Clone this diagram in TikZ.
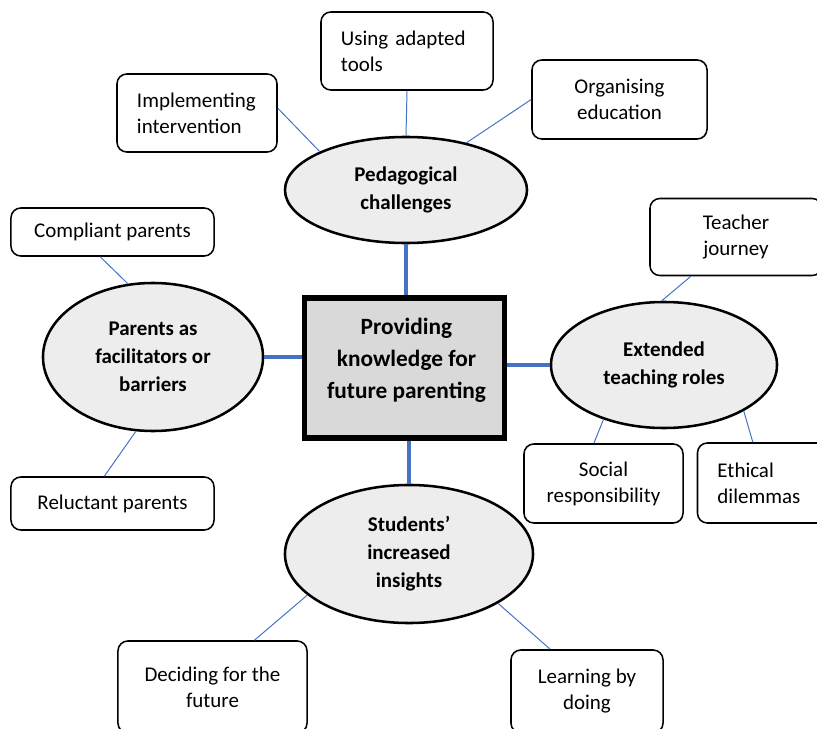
\documentclass[tikz,border=0pt]{standalone}
\usepackage{fontspec}
\setmainfont{Carlito}
\usepackage{tikz}
\usetikzlibrary{
    positioning,
    calc,
    shapes.geometric,
}
\definecolor{linkblue}{HTML}{4472C4}
\definecolor{themefill}{HTML}{EDEDED}
\definecolor{corefill}{HTML}{D9D9D9}
\tikzset{
    % Box and ellipse styles
    leaf/.style={rectangle, draw, rounded corners=7pt, line width=1.1pt, fill=white,
                 inner xsep=0.3cm, inner ysep=0pt, align=center,
                 font=\fontsize{14.9}{18.5}\selectfont},
    leaf left/.style={leaf, align=left, inner xsep=0.5cm},
    theme/.style={ellipse, draw, line width=1.8pt, fill=themefill, inner sep=0pt,
                  align=center, font=\bfseries\fontsize{14.9}{20}\selectfont},
    core/.style={rectangle, draw, line width=3.6pt, fill=corefill, inner sep=0pt},
    core text/.style={align=center, inner sep=0pt,
                      font=\bfseries\fontsize{16.6}{22.8}\selectfont},
    % Connector styles
    trunk/.style={linkblue, line width=2.8pt},
    twig/.style={linkblue, line width=0.7pt},
}

\begin{document}
\begin{tikzpicture}[x=0.025cm, y=-0.025cm]
    \useasboundingbox (0,0) rectangle (817,729);
    \clip (0,0) rectangle (817,729);

    % Centre
    \node[core, minimum width=5.0cm, minimum height=3.5cm] (core) at (404.5,368) {};
    \node[core text] (core label) at ($(core.center)+(2,-8)$)
        {Providing\\knowledge for\\future parenting};

    % Themes
    \node[theme, minimum width=6.05cm, minimum height=2.65cm] (ped) at (406,190)
        {Pedagogical\\challenges};
    \node[theme, minimum width=5.65cm, minimum height=3.15cm] (ext) at (664,365)
        {Extended\\teaching roles};
    \node[theme, minimum width=5.5cm, minimum height=3.7cm] (par) at (153,357)
        {Parents as\\facilitators or\\barriers};
    \node[theme, minimum width=6.2cm, minimum height=3.45cm] (stu) at (409,554)
        {Students’\\increased\\insights};

    % Sub-themes
    \node[leaf left, text width=3.3cm, minimum height=1.95cm] (using) at (407,51)
        {Using adapted\\tools};
    \node[leaf left, text width=3.0cm, minimum height=1.95cm] (impl) at (197,113)
        {Implementing\\intervention};
    \node[leaf, minimum width=4.375cm, minimum height=1.975cm] (org) at (619.5,99.5)
        {Organising\\education};
    \node[leaf, minimum width=4.3cm, minimum height=1.925cm] (teach) at (736,237)
        {Teacher\\journey};
    \node[leaf, minimum width=3.975cm, minimum height=1.975cm] (social) at (603.5,483.5)
        {Social\\responsibility};
    \node[leaf left, text width=2.3cm, minimum height=2.0cm] (ethic) at (763.5,483)
        {Ethical\\dilemmas};
    \node[leaf, minimum width=5.075cm, minimum height=1.2cm] (comp) at (112.5,232)
        {Compliant parents};
    \node[leaf, minimum width=5.075cm, minimum height=1.325cm] (reluct) at (112.5,503.5)
        {Reluctant parents};
    \node[leaf, minimum width=4.725cm, minimum height=2.3cm] (decide) at (212.5,687)
        {Deciding for the\\future};
    \node[leaf, minimum width=3.8cm, minimum height=2.075cm] (learn) at (587,691.5)
        {Learning by\\doing};

    % Centre to themes
    \draw[trunk] (ped.south) -- (ped.south |- core.north);
    \draw[trunk] (par.east) -- (par.east -| core.west);
    \draw[trunk] (ext.west) -- (ext.west -| core.east);
    \draw[trunk] (stu.north) -- (stu.north |- core.south);

    % Themes to sub-themes
    \draw[twig] ($(impl.north east)!0.44!(impl.south east)$) -- (ped.156);
    \draw[twig] (using.south) -- (ped.north);
    \draw[twig] (org.west) -- (ped.38);
    \draw[twig] ($(teach.south west)!0.24!(teach.south east)$) -- (ext.92);
    \draw[twig] ($(social.north west)!0.44!(social.north east)$) -- (ext.222);
    \draw[twig] ($(ethic.north west)!0.42!(ethic.north east)$) -- (ext.330);
    \draw[twig] ($(comp.south west)!0.44!(comp.south east)$) -- (par.109);
    \draw[twig] ($(reluct.north west)!0.46!(reluct.north east)$) -- (par.257);
    \draw[twig] ($(decide.north west)!0.72!(decide.north east)$) -- (stu.202);
    \draw[twig] ($(learn.north west)!0.26!(learn.north east)$) -- (stu.331);
\end{tikzpicture}
\end{document}
